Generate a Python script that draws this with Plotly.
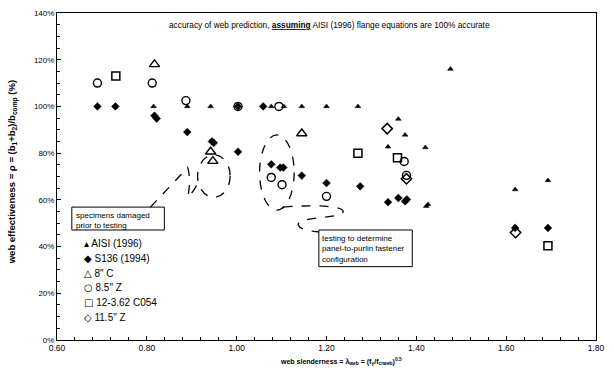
import plotly.graph_objects as go

# ---- data ----
aisi_x = [0.815, 0.89, 0.942, 1.077, 1.105, 1.145, 1.20, 1.27, 1.36, 1.476, 1.375, 1.337, 1.42, 1.62, 1.693, 1.422, 1.426]
aisi_y = [100, 100, 100, 100, 100, 100, 100, 100, 94.6, 116, 87.8, 82.7, 82.4, 64.4, 68.3, 57.3, 58.0]

s136_x = [0.69, 0.73, 0.817, 0.822, 0.89, 0.945, 0.949, 1.003, 1.003, 1.059, 1.077, 1.097, 1.104, 1.145, 1.20, 1.275, 1.337, 1.36, 1.375, 1.379, 1.62, 1.693]
s136_y = [100, 100, 96, 94.8, 89, 85, 84.4, 80.6, 100, 100, 75.2, 73.8, 73.8, 70.4, 67.2, 65.8, 59, 60.8, 59.4, 60.2, 48, 48]

c8_x = [0.817, 0.942, 0.947, 1.145]
c8_y = [118, 80.6, 76.6, 88.4]

z85_x = [0.69, 0.812, 0.887, 1.003, 1.094, 1.077, 1.101, 1.20, 1.373, 1.378]
z85_y = [110, 110, 102.5, 100, 100, 69.6, 66.5, 61.5, 76.4, 70.5]

c054_x = [0.731, 1.27, 1.358, 1.693]
c054_y = [113, 80, 78, 40.3]

z115_x = [1.335, 1.378, 1.621]
z115_y = [90.5, 69, 46]

x_ticks = [0.6, 0.8, 1.0, 1.2, 1.4, 1.6, 1.8]
x_labels = ["0.60", "0.80", "1.00", "1.20", "1.40", "1.60", "1.80"]
y_ticks = [0, 20, 40, 60, 80, 100, 120, 140]
y_labels = ["0%", "20%", "40%", "60%", "80%", "100%", "120%", "140%"]

legend_names = ["AISI (1996)", "S136 (1994)", '8" C', '8.5" Z', "12-3.62 C054", '11.5" Z']
legend_glyphs = ["\u25b4", "\u25c6", "\u25b3", "\u25cb", "\u25a1", "\u25c7"]

FONT = "Arial, Liberation Sans, sans-serif"
GLYPH_FONT = "DejaVu Sans"

fig = go.Figure()

series = [
    (aisi_x, aisi_y, dict(symbol="triangle-up", size=5, color="black", line=dict(width=0.5, color="black"))),
    (s136_x, s136_y, dict(symbol="diamond", size=6, color="black", line=dict(width=0.5, color="black"))),
    (c8_x, c8_y, dict(symbol="triangle-up-open", size=9, color="black", line=dict(width=1.4, color="black"))),
    (z85_x, z85_y, dict(symbol="circle-open", size=8, color="black", line=dict(width=1.4, color="black"))),
    (c054_x, c054_y, dict(symbol="square-open", size=8, color="black", line=dict(width=1.5, color="black"))),
    (z115_x, z115_y, dict(symbol="diamond-open", size=8, color="black", line=dict(width=1.5, color="black"))),
]
for (xs, ys, mk), name in zip(series, legend_names):
    fig.add_trace(go.Scatter(x=xs, y=ys, mode="markers", name=name, marker=mk,
                             showlegend=False))

# legend drawn as text rows (glyph + label)
legend_top = 243
for i, (g, n) in enumerate(zip(legend_glyphs, legend_names)):
    py = legend_top + i * 14.8
    fig.add_annotation(xref="paper", yref="paper", x=(82 - 57) / 548, y=(340 - py) / 330,
                       text=f'<span style="font-family:{GLYPH_FONT}">{g}</span> {n}',
                       showarrow=False, xanchor="left", yanchor="middle",
                       font=dict(family=FONT, size=10, color="black"))

# title annotation
fig.add_annotation(xref="paper", yref="paper", x=(334 - 57) / 548, y=(340 - 22) / 330,
                   text="accuracy of web prediction, <b><u>assuming</u></b> AISI (1996) flange equations are 100% accurate",
                   showarrow=False, xanchor="center", yanchor="middle",
                   font=dict(family=FONT, size=8.3, color="black"))

# axis titles
fig.add_annotation(xref="paper", yref="paper", x=(12 - 57) / 548, y=(340 - 171) / 330,
                   text="<b>web effectiveness = \u03c1 = (b<sub>1</sub>+b<sub>2</sub>)/b<sub>comp</sub> (%)</b>",
                   showarrow=False, textangle=-90, xanchor="center", yanchor="middle",
                   font=dict(family=FONT, size=9.5, color="black"))
fig.add_annotation(xref="paper", yref="paper", x=(346 - 57) / 548, y=(340 - 362) / 330,
                   text="<b>web slenderness = \u03bb<sub>web</sub> = (f<sub>y</sub>/f<sub>crweb</sub>)<sup>0.5</sup></b>",
                   showarrow=False, xanchor="center", yanchor="middle",
                   font=dict(family=FONT, size=7, color="black"))

# callout boxes
dash = dict(color="black", width=1.3, dash="dash")
fig.add_shape(type="rect", x0=0.633, x1=0.839, y0=47.1, y1=56.9, line=dict(color="black", width=1))
fig.add_annotation(x=0.637, y=56.0, text="specimens damaged<br>prior to testing", showarrow=False,
                   xanchor="left", yanchor="top", align="left",
                   font=dict(family=FONT, size=8, color="black"))
fig.add_shape(type="rect", x0=1.183, x1=1.391, y0=31.4, y1=47.1, line=dict(color="black", width=1))
fig.add_annotation(x=1.186, y=46.3, text="testing to determine<br>panel-to-purlin fastener<br>configuration",
                   showarrow=False, xanchor="left", yanchor="top", align="left",
                   font=dict(family=FONT, size=8, color="black"))

# dashed ellipses and leader loops
fig.add_shape(type="circle", x0=0.913, x1=0.9855, y0=61.1, y1=79.3, line=dash)
fig.add_shape(type="circle", x0=1.051, x1=1.128, y0=55.6, y1=87.8, line=dash)
fig.add_shape(type="path",
              path="M 0.808 56.9 Q 0.860 67.5 0.891 73.8 Q 0.899 68.5 0.891 61.1 Q 0.901 62.5 0.916 67.9",
              line=dash)
fig.add_shape(type="path",
              path="M 1.104 56.9 C 1.176 58.1 1.242 57.3 1.237 54.7 C 1.231 51.8 1.132 53.0 1.137 49.2 C 1.141 47.1 1.165 46.7 1.183 46.2",
              line=dash)

fig.update_layout(
    width=614, height=373,
    margin=dict(l=57, r=9, t=10, b=33),
    plot_bgcolor="white", paper_bgcolor="white",
    font=dict(family=FONT, size=8, color="black"),
)
fig.update_xaxes(range=[0.6, 1.8], tickvals=x_ticks, ticktext=x_labels,
                 showgrid=False, zeroline=False, showline=True, mirror=True,
                 linecolor="black", linewidth=1, ticks="inside", ticklen=4,
                 tickcolor="black", tickfont=dict(family=FONT, size=8.5, color="black"),
                 minor=dict(dtick=0.04, tick0=0.6, ticks="inside", ticklen=3, tickcolor="black", showgrid=False))
fig.update_yaxes(range=[0, 140], tickvals=y_ticks, ticktext=y_labels,
                 showgrid=False, zeroline=False, showline=True, mirror=True,
                 linecolor="black", linewidth=1, ticks="inside", ticklen=4,
                 tickcolor="black", tickfont=dict(family=FONT, size=8, color="black"),
                 minor=dict(dtick=5, tick0=0, ticks="inside", ticklen=3, tickcolor="black", showgrid=False))

fig.write_html("out.html", config={"displayModeBar": False},
               post_script="document.body.style.margin='0';document.body.style.overflow='hidden';")
